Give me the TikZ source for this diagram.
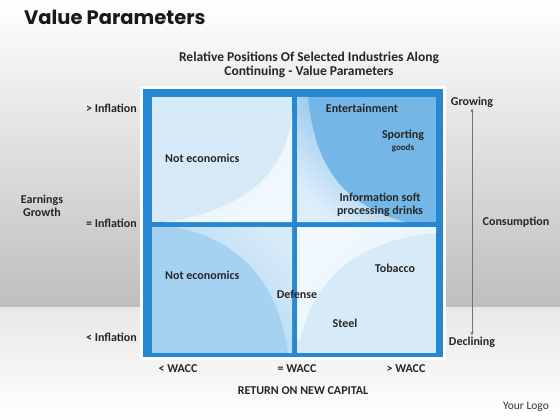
\documentclass[tikz,border=0pt]{standalone}
\usepackage{fontspec}
\setmainfont{Carlito}
\newfontfamily\titlefont{Poppins}
\usetikzlibrary{arrows.meta}

\definecolor{frameblue}{RGB}{38,136,210}
\definecolor{paleblue}{RGB}{214,234,248}
\definecolor{lightblue}{RGB}{242,249,254}
\definecolor{midblue}{RGB}{166,210,241}
\definecolor{deepblue}{RGB}{116,182,230}
\definecolor{bggray}{RGB}{190,190,190}

\tikzset{
  lab/.style={font=\bfseries\fontsize{12}{13}\selectfont, inner sep=1pt, align=center, text=black!85},
  small/.style={font=\bfseries\fontsize{9}{10}\selectfont, inner sep=1pt, text=black!85}
}

\begin{document}
\begin{tikzpicture}[x=1pt,y=-1pt]
\useasboundingbox (0,0) rectangle (560,420);

% background and floor
\shade[top color=white, middle color=black!9, bottom color=bggray] (0,0) rectangle (560,307);
\shade[top color=black!9, bottom color=white] (0,307) rectangle (560,420);

% frame
\fill[white] (140,86) rectangle (446,360);
\fill[frameblue] (143,89) rectangle (443,357);

% quadrants
\fill[paleblue] (152,97) rectangle (292,222);
\fill[deepblue] (297,97) rectangle (436,222);
\fill[midblue] (152,227) rectangle (292,353);
\fill[paleblue] (297,227) rectangle (436,353);

% light corners round the centre
\shade[top color=lightblue, bottom color=paleblue!70, shading angle=225]
  (292,222) -- (292,110) .. controls (288,180) and (235,212) .. (165,222) -- cycle;
\shade[top color=paleblue!80, bottom color=deepblue, shading angle=135]
  (297,222) -- (297,97) -- (308,97) .. controls (315,170) and (345,205) .. (405,222) -- cycle;
\shade[top color=paleblue, bottom color=midblue, shading angle=-45]
  (292,227) -- (175,227) .. controls (245,240) and (280,290) .. (288,353) -- (292,353) -- cycle;
\shade[top color=lightblue, bottom color=paleblue!70, shading angle=45]
  (297,227) -- (297,340) -- (300,340) .. controls (315,275) and (360,240) .. (436,233) -- (436,227) -- cycle;

% titles
\node[anchor=west, inner sep=0pt, font=\titlefont\bfseries\fontsize{19.5}{22}\selectfont, text=black!90] (title) at (24,17) {Value Parameters};
\node[lab, font=\bfseries\fontsize{13.5}{14.5}\selectfont] (head) at (309,65) {Relative Positions Of Selected Industries Along\\Continuing - Value Parameters};

% quadrant texts
\node[lab, anchor=west] (tlnot) at (164,158) {Not economics};
\node[lab] (ent) at (362,108) {Entertainment};
\node[lab] (sport) at (403,135) {Sporting};
\node[small] (goods) at (403,148) {goods};
\node[lab] (info) at (380,205) {Information soft\\processing drinks};
\node[lab, anchor=west] (blnot) at (164,275) {Not economics};
\node[lab] (def) at (297,294) {Defense};
\node[lab] (tob) at (395,268) {Tobacco};
\node[lab] (steel) at (345,323) {Steel};

% left axis
\node[lab, anchor=east] (infhi) at (138,108) {> Inflation};
\node[lab, anchor=east] (infeq) at (138,223) {= Inflation};
\node[lab, anchor=east] (inflo) at (138,337) {< Inflation};
\node[lab] (earn) at (42,206) {Earnings\\Growth};

% right axis
\node[lab] (grow) at (472,102) {Growing};
\node[lab] (decl) at (472,342) {Declining};
\node[lab] (cons) at (516,222) {Consumption};
\draw[black!55, {Stealth[length=4pt,width=3pt]}-{Stealth[length=4pt,width=3pt]}] (grow) -- (decl);

% bottom axis
\node[lab] (wlo) at (178,369) {< WACC};
\node[lab] (weq) at (297,369) {= WACC};
\node[lab] (whi) at (406,369) {> WACC};
\node[lab] (ret) at (303,391) {RETURN ON NEW CAPITAL};
\node[font=\fontsize{11.5}{13}\selectfont, text=black!80, inner sep=1pt] (logo) at (526,407) {Your Logo};
\end{tikzpicture}
\end{document}
